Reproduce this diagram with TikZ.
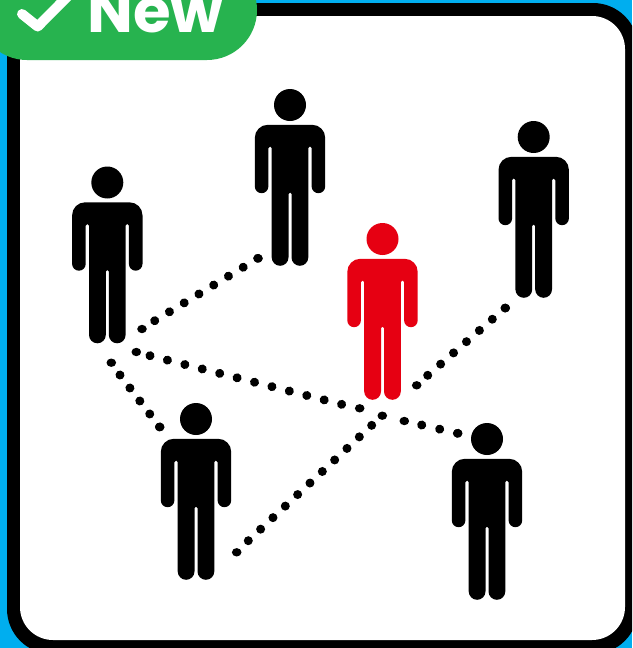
\documentclass[tikz,border=0pt]{standalone}
\usepackage{fontspec}
\setmainfont{Poppins}
\usetikzlibrary{shapes.geometric}
\definecolor{skyframe}{HTML}{00AEEF}
\definecolor{tagGreen}{HTML}{27B34F}
\definecolor{personRed}{HTML}{E60012}
\tikzset{
  person/.pic={
    \fill[pic actions] (0,0) circle[radius=16];
    \fill[pic actions] (-22.2,19.8) -- (22.2,19.8) arc(-90:0:13)
      -- (35.2,81.4) arc(0:180:6.8)
      -- (21.6,43.1) arc(0:-180:1.65)
      -- (18.3,152.4) arc(0:180:8.4)
      -- (1.5,89) arc(0:-180:1.5)
      -- (-1.5,152.4) arc(0:180:8.4)
      -- (-18.3,43.1) arc(0:-180:1.65)
      -- (-21.6,81.4) arc(0:180:6.8)
      -- (-35.2,32.8) arc(180:270:13) -- cycle;
  },
  enddot/.style={ellipse,fill=black,inner sep=0pt,minimum width=9.6pt,minimum height=8.4pt},
  dotline/.style={line width=9pt,line cap=round,dash pattern=on 0.01pt off #1},
}
\begin{document}
\begin{tikzpicture}[x=1pt,y=-1pt]
\useasboundingbox (0,0) rectangle (632,648);
\clip (0,0) rectangle (632,648);
% frame
\fill[skyframe] (0,0) rectangle (632,648);
\fill[black,rounded corners=45pt] (7,3) rectangle (638,654);
\fill[white,rounded corners=33pt] (20,16) rectangle (625,640);
% tag
\fill[tagGreen,rounded corners=50pt] (-23,-40) rectangle (257,60);
\draw[white,line width=10pt,line join=round,line cap=round] (22,14) -- (37.7,26.5) -- (70,-6);
\node[white,font=\fontsize{61}{61}\selectfont\bfseries,anchor=base,inner sep=0pt] (newlabel) at (155.5,32.5) {New};
% people
\pic[black] (p1) at (107.3,182.5) {person};
\pic[black] (p2) at (290,105) {person};
\pic[black] (p3) at (533.7,137) {person};
\pic[personRed] (pr) at (382.5,239) {person};
\pic[black] (p4) at (196,419) {person};
\pic[black] (p5) at (487,439) {person};
% connector end dots
\node[enddot] (a0) at (142,329) {};
\node[enddot] (a2) at (258,258.3) {};
\node[enddot] (b0) at (111.3,362.7) {};
\node[enddot] (b2) at (159.7,427) {};
\node[enddot] (c0) at (136.3,352) {};
\node[enddot] (c3) at (359.7,408.3) {};
\node[enddot] (c4) at (404.3,421) {};
\node[enddot] (c6) at (457.7,433.3) {};
\node[enddot] (d0) at (236.7,552.3) {};
\node[enddot] (d3) at (382.3,415.7) {};
\node[enddot] (e0) at (416.7,385.3) {};
\node[enddot] (e2) at (505.3,308) {};
% connector runs
\coordinate (a1) at (154.7,320.7);
\coordinate (b1) at (120,375);
\coordinate (c1) at (150,355.7);
\coordinate (c2) at (341.9,404.4);
\coordinate (c5) at (421.7,425);
\coordinate (d1) at (248.3,540.7);
\coordinate (d2) at (371.7,425.3);
\coordinate (e1) at (427.7,375.3);
\draw[dotline=17.22pt] (a1) -- (a2.center);
\draw[dotline=16.33pt] (b1) -- (b2.center);
\draw[dotline=17.96pt] (c1) -- (c2);
\draw[dotline=18.45pt] (c5) -- (c6.center);
\draw[dotline=16.88pt] (d1) -- (d2);
\draw[dotline=17.1pt] (e1) -- (e2.center);
\end{tikzpicture}
\end{document}
